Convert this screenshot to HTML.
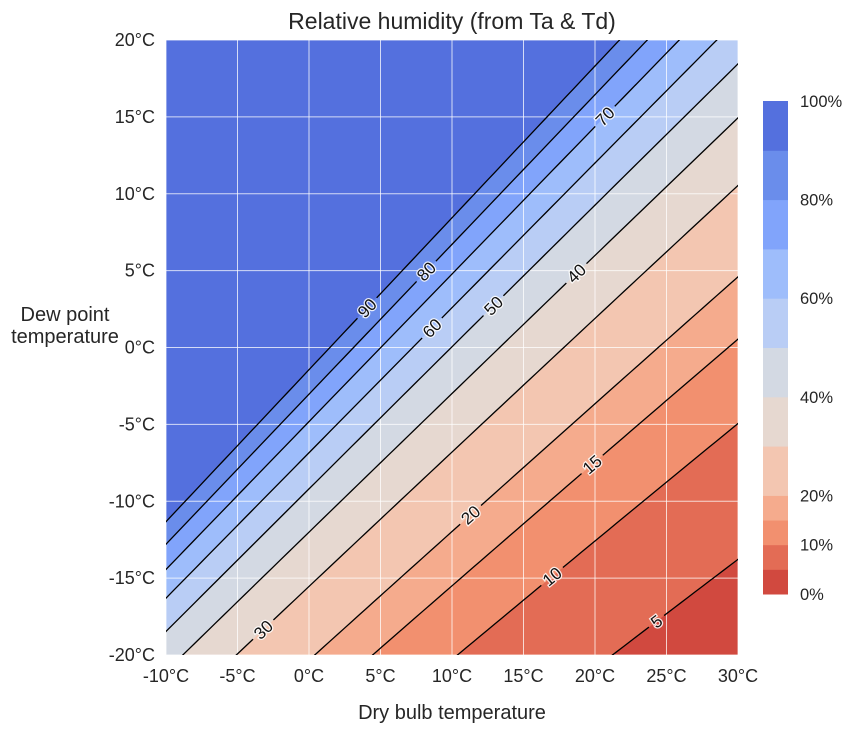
<!DOCTYPE html>
<html><head><meta charset="utf-8"><style>
html,body{margin:0;background:#fff;overflow:hidden;width:853px;height:733px}
svg{display:block}
svg text{font-family:"Liberation Sans","DejaVu Sans",sans-serif;fill:#262626}
</style></head><body>
<svg id="chart" width="853" height="733">
<defs id="defs"><clipPath id="pc"><rect x="166" y="40" width="572" height="615"/></clipPath></defs>
<text x="452" y="29" text-anchor="middle" font-size="23">Relative humidity (from Ta &amp; Td)</text>
<g id="fills" clip-path="url(#pc)"></g>
<g id="grid" clip-path="url(#pc)"></g>
<g id="lines" clip-path="url(#pc)"></g>
<g id="labels"></g>
<g id="ticks"></g>
<text x="65" y="321" text-anchor="middle" font-size="20"><tspan x="65">Dew point</tspan><tspan x="65" dy="22">temperature</tspan></text>
<text x="452" y="719" text-anchor="middle" font-size="20">Dry bulb temperature</text>
<g id="cbar"></g>
</svg>
<script>
const levels=[0,5,10,15,20,30,40,50,60,70,80,90,100];
const colors=["#d1493f","#e36c55","#f2906f","#f5ab8d","#f3c6b1","#e6d8d0","#d3d9e3","#b9cdf5","#9ebdfb","#81a4fb","#6a8deb","#5470de"];
const lineLevels=[5,10,15,20,30,40,50,60,70,80,90];
const labelTa=[24.3,17.0,19.8,11.3,-3.2,18.7,12.9,8.6,20.7,8.2,4.06];
const xTicks=[-10,-5,0,5,10,15,20,25,30];
const yTicks=[-20,-15,-10,-5,0,5,10,15,20];
const cbarTicks=[0,10,20,40,60,80,100];
const NS="http://www.w3.org/2000/svg";
const X=t=>166+(t+10)*572/40, Y=t=>655-(t+20)*615/40;
const CB=v=>594-v*(594-101)/100;
function td(ta,rh){const g=Math.log(rh/100)+17.625*ta/(243.04+ta);return 243.04*g/(17.625-g);}
function mk(tag,attrs,parent){const e=document.createElementNS(NS,tag);for(const k in attrs)e.setAttribute(k,attrs[k]);parent.appendChild(e);return e;}
const defs=document.getElementById('defs');
const fills=document.getElementById('fills');
for(let i=0;i<colors.length;i++){
  const lv=levels[i];let pts=[];
  if(lv<=0){pts=[[100,800],[1000,800],[1000,-200],[100,-200]];}
  else{for(let ta=-12;ta<=32;ta+=0.5)pts.push([X(ta),Y(Math.max(td(ta,lv),-60))]);pts.push([1000,-200],[100,-200]);}
  const p=mk('polygon',{points:pts.map(q=>q.join(',')).join(' '),fill:colors[i]},fills);
  
  
}
const grid=document.getElementById('grid');
xTicks.forEach(t=>mk('line',{x1:X(t),x2:X(t),y1:40,y2:655,stroke:'#fff','stroke-opacity':0.75,'stroke-width':1},grid));
yTicks.forEach(t=>mk('line',{y1:Y(t),y2:Y(t),x1:166,x2:738,stroke:'#fff','stroke-opacity':0.75,'stroke-width':1},grid));
const lines=document.getElementById('lines'),labels=document.getElementById('labels');
lineLevels.forEach((lv,i)=>{
  const ta=labelTa[i],x=X(ta),y=Y(td(ta,lv));
  const dx=X(ta+0.5)-X(ta-0.5),dy=Y(td(ta+0.5,lv))-Y(td(ta-0.5,lv));
  const ang=Math.atan2(dy,dx)*180/Math.PI;
  const w=String(lv).length*9+10;
  const m=mk('mask',{id:'m'+lv,maskUnits:'userSpaceOnUse',x:0,y:0,width:853,height:733},defs);
  mk('rect',{x:0,y:0,width:853,height:733,fill:'#fff'},m);
  mk('rect',{x:x-w/2,y:y-8,width:w,height:16,fill:'#000',transform:`rotate(${ang} ${x} ${y})`},m);
  let pts=[];for(let t=-12;t<=32;t+=0.5)pts.push(X(t)+','+Y(td(t,lv)));
  const l=mk('polyline',{points:pts.join(' '),fill:'none',stroke:'#000','stroke-width':1.3,mask:'url(#m'+lv+')'},lines);
  
  
  const t=mk('text',{x:x,y:y+6,'text-anchor':'middle','font-size':17,transform:`rotate(${ang} ${x} ${y})`,stroke:'#fff','stroke-width':2.5,'paint-order':'stroke','stroke-opacity':0.85},labels);
  t.style.fill='#111';
  t.textContent=lv;
  
  
});
const ticks=document.getElementById('ticks');
xTicks.forEach(t=>{const e=mk('text',{x:X(t),y:682,'text-anchor':'middle','font-size':18},ticks);e.textContent=t+'°C';
  
  });
yTicks.forEach(t=>{const e=mk('text',{x:155,y:Y(t)+6,'text-anchor':'end','font-size':18},ticks);e.textContent=t+'°C';
  
  });
const cb=document.getElementById('cbar');
for(let i=0;i<colors.length;i++){mk('rect',{x:763,y:CB(levels[i+1]),width:25,height:CB(levels[i])-CB(levels[i+1])+0.5,fill:colors[i]},cb);}
cbarTicks.forEach(v=>{const e=mk('text',{x:800,y:CB(v)+6,'font-size':16.5},cb);e.textContent=v+'%';
  
  });
</script>
</body></html>
